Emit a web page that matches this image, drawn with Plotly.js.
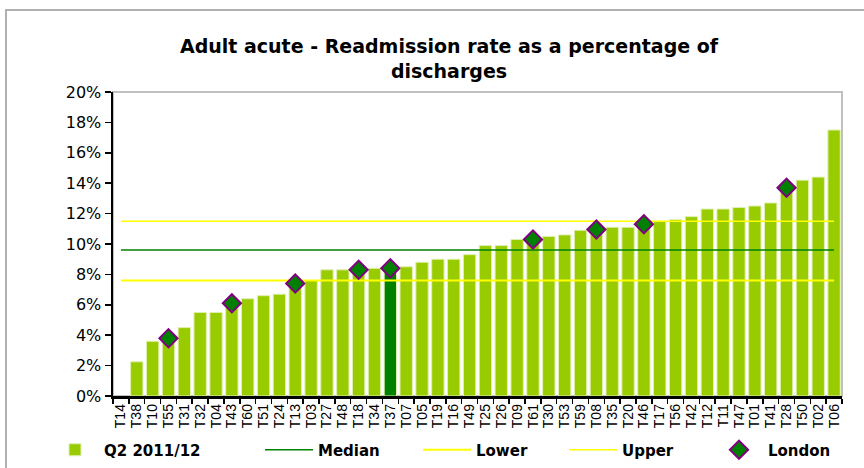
<!DOCTYPE html>
<html>
<head>
<meta charset="utf-8">
<script src="https://cdn.plot.ly/plotly-3.0.1.min.js"></script>
<style>
  html, body { margin: 0; padding: 0; background: #ffffff; }
  #wrap { position: relative; width: 864px; height: 468px; overflow: hidden; }
  #chart { width: 864px; height: 468px; }
  #frame { position: absolute; left: 5px; top: 9px; width: 900px; height: 500px;
           border-left: 2px solid #b0b0b0; border-top: 2px solid #b0b0b0; pointer-events: none; }
</style>
</head>
<body>
<div id="wrap">
  <div id="chart"></div>
  <div id="frame"></div>
</div>
<script>
// ---- data ----
const categories = ["T14","T38","T10","T55","T31","T32","T04","T43","T60","T51","T24","T13","T03","T27","T48","T18","T34","T37","T07","T05","T19","T16","T49","T25","T26","T09","T61","T30","T53","T59","T08","T35","T20","T46","T17","T56","T42","T12","T11","T47","T01","T41","T28","T50","T02","T06"];
const q2Values = [null,2.25,3.6,3.8,4.5,5.5,5.5,6.1,6.4,6.6,6.7,7.4,7.6,8.3,8.3,8.3,8.4,8.4,8.5,8.8,9.0,9.0,9.3,9.9,9.9,10.3,10.3,10.5,10.6,10.9,10.95,11.1,11.1,11.3,11.5,11.6,11.8,12.3,12.3,12.4,12.5,12.7,13.7,14.2,14.4,17.5];
const londonValues = [null,null,null,3.8,null,null,null,6.1,null,null,null,7.4,null,null,null,8.3,null,8.4,null,null,null,null,null,null,null,null,10.3,null,null,null,10.95,null,null,11.3,null,null,null,null,null,null,null,null,13.7,null,null,null];
const medianValue = 9.6;
const lowerValue = 7.6;
const upperValue = 11.5;
const highlighted = "T37";
const yTickVals = [0,2,4,6,8,10,12,14,16,18,20];
const yTickText = ["0%","2%","4%","6%","8%","10%","12%","14%","16%","18%","20%"];
const seriesNames = ["Q2 2011/12","Median","Lower","Upper","London"];

// ---- styles ----
const LIGHT = "#99CC00", DARK = "#008000", YELLOW = "#FFFF00", PURPLE = "#800080";
const barColors = categories.map(c => c === highlighted ? DARK : LIGHT);
const ends = [categories[0], categories[categories.length - 1]];
const legendFont = {family: "DejaVu Sans", size: 15, color: "#000", weight: "bold"};

const traces = [
  {type: "bar", name: seriesNames[0], x: categories, y: q2Values,
   marker: {color: barColors, line: {color: "#dff0b0", width: 1}},
   legend: "legend", hoverinfo: "x+y"},
  {type: "scatter", mode: "lines", name: seriesNames[1], x: ends, y: [medianValue, medianValue],
   line: {color: DARK, width: 1.5}, legend: "legend2"},
  {type: "scatter", mode: "lines", name: seriesNames[2], x: ends, y: [lowerValue, lowerValue],
   line: {color: YELLOW, width: 2}, legend: "legend3"},
  {type: "scatter", mode: "lines", name: seriesNames[3], x: ends, y: [upperValue, upperValue],
   line: {color: YELLOW, width: 1.5}, legend: "legend4"},
  {type: "scatter", mode: "markers", name: seriesNames[4], x: categories, y: londonValues,
   marker: {symbol: "diamond", size: 14, color: DARK, line: {color: PURPLE, width: 2}},
   legend: "legend5"}
];

function leg(xpx) {
  return {orientation: "h", xref: "container", yref: "container", x: xpx / 864, y: 18 / 468,
          xanchor: "left", yanchor: "middle", font: legendFont, bgcolor: "rgba(0,0,0,0)",
          itemwidth: 48};
}

const layout = {
  width: 864, height: 468,
  margin: {l: 113, r: 22, t: 92, b: 72},
  paper_bgcolor: "#ffffff", plot_bgcolor: "#ffffff",
  title: {text: "Adult acute - Readmission rate as a percentage of<br>discharges",
          font: {family: "DejaVu Sans", size: 19, color: "#000", weight: "bold"},
          xref: "container", yref: "container", x: 449 / 864, y: 1 - 53 / 468,
          xanchor: "center", yanchor: "middle"},
  bargap: 0.22,
  xaxis: {type: "category", range: [-0.5, categories.length - 0.5], autorange: false,
          tickmode: "linear", dtick: 1, tickson: "boundaries", ticks: "outside", ticklen: 5,
          tickcolor: "#000", tickwidth: 1.5, showline: true, linecolor: "#000", linewidth: 2.5,
          tickangle: -90, tickfont: {family: "Liberation Sans", size: 14, color: "#000"},
          showgrid: false, zeroline: false, fixedrange: true},
  yaxis: {range: [0, 20], autorange: false, tickvals: yTickVals, ticktext: yTickText, ticks: "outside",
          ticklen: 6, tickcolor: "#000", tickwidth: 1.5, showline: true, linecolor: "#000",
          linewidth: 2.5, showgrid: false, zeroline: false,
          tickfont: {family: "DejaVu Sans", size: 16, color: "#000"}, fixedrange: true},
  shapes: [{type: "rect", xref: "paper", yref: "paper", x0: 0, x1: 1, y0: 0, y1: 1,
            line: {color: "#c0c0c0", width: 2}, layer: "below"}],
  legend: leg(46), legend2: leg(260), legend3: leg(418), legend4: leg(564), legend5: leg(710),
  showlegend: true
};

Plotly.newPlot("chart", traces, layout, {displayModeBar: false, staticPlot: true});
</script>
</body>
</html>
